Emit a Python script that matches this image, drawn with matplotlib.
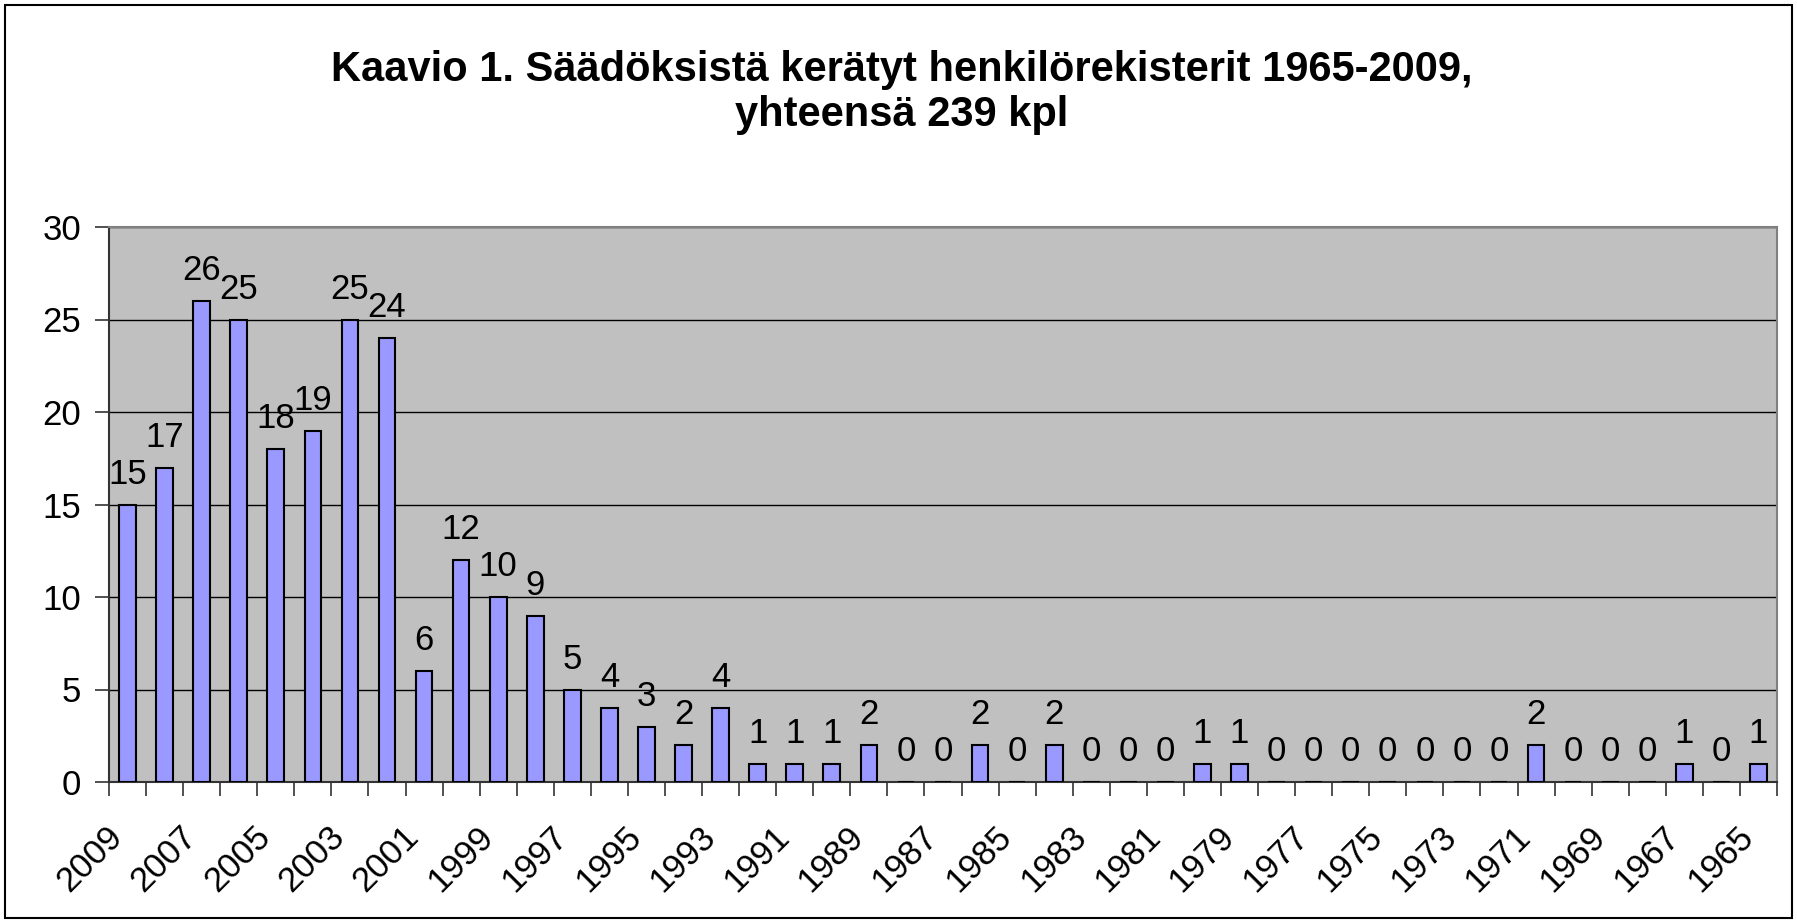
import matplotlib.pyplot as plt
import matplotlib.patches as patches
import matplotlib.transforms as mtransforms
import numpy as np

plt.rcParams['font.family'] = ['Liberation Sans', 'DejaVu Sans']

# vuodet ja henkilörekisterien määrät
vuodet = list(range(2009, 1964, -1))
maarat = [15, 17, 26, 25, 18, 19, 25, 24, 6, 12, 10, 9, 5, 4, 3, 2, 4, 1, 1, 1, 2,
          0, 0, 2, 0, 2, 0, 0, 0, 1, 1, 0, 0, 0, 0, 0, 0, 0, 2, 0, 0, 0, 1, 0, 1]
otsikko = "Kaavio 1. Säädöksistä kerätyt henkilörekisterit 1965-2009,\nyhteensä 239 kpl"

fig = plt.figure(figsize=(17.97, 9.23), dpi=100)
ax = fig.add_axes([109/1797, 1-782/923, (1777-109)/1797, (782-227)/923])

x = np.arange(len(vuodet))
ax.set_facecolor('#C0C0C0')
ax.bar(x, maarat, width=0.45, color='#9999FF', edgecolor='black', linewidth=1.5, zorder=3)

for xi, v in zip(x, maarat):
    ax.annotate(str(v), (xi, v), xytext=(0, 10), textcoords='offset points',
                ha='center', va='bottom', fontsize=25)

ax.set_xlim(-0.5, len(vuodet) - 0.5)
ax.set_ylim(0, 30)
ax.set_yticks(range(0, 31, 5))
ax.yaxis.grid(True, color='black', linewidth=1)
ax.set_axisbelow(True)

# tikit pylväsvälien kohdalle, vuosiluvut joka toiselle pylväälle
ax.set_xticks(np.arange(-0.5, len(vuodet)))
ax.set_xticklabels([])
ax.tick_params(axis='x', length=10, width=1.2, color='#333333')
ax.tick_params(axis='y', labelsize=25, length=10, width=1.2, color='#333333', pad=10)

siirto = ax.transData + mtransforms.ScaledTranslation(-0.22, -0.38, fig.dpi_scale_trans)
for xi, vuosi in zip(x[::2], vuodet[::2]):
    ax.text(xi, 0, str(vuosi), transform=siirto, rotation=45, ha='right', va='top',
            rotation_mode='anchor', fontsize=25, clip_on=False)

for s in ['top', 'right']:
    ax.spines[s].set_color('#808080')
    ax.spines[s].set_linewidth(1.5)
for s in ['left', 'bottom']:
    ax.spines[s].set_color('#333333')
    ax.spines[s].set_linewidth(1.5)

fig.text(0.502, 0.90, otsikko, ha='center', va='center', fontsize=30,
         fontweight='bold', linespacing=1.15)

fig.patches.append(patches.Rectangle((5/1797, 5/923), 1787/1797, 913/923,
                                     transform=fig.transFigure, fill=False,
                                     edgecolor='black', linewidth=1.5))

fig.savefig('out.png', dpi=100)
